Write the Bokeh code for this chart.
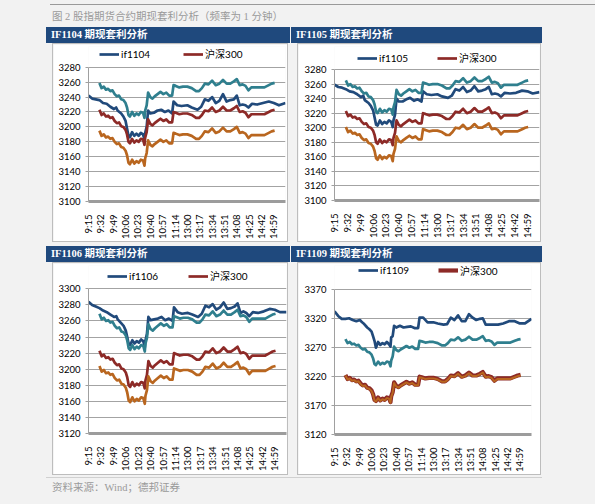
import math
from bokeh.plotting import figure
from bokeh.models import Range1d, FixedTicker, Legend, LegendItem, Div, Spacer
from bokeh.layouts import column, row
from bokeh.embed import file_html
from bokeh.resources import INLINE

# ---------------- data ----------------
TICK_LABELS = ["9:15", "9:32", "9:49", "10:06", "10:23", "10:40", "10:57", "11:14",
               "13:00", "13:17", "13:34", "13:51", "14:08", "14:25", "14:42", "14:59"]

# minute index (9:15 = 0, 13:00 = 136) of the points read for the spot-based series
SPOT_T = [15, 18, 21, 24, 27, 30, 33, 36, 39, 42, 45, 48, 51, 53, 55, 57, 60, 63, 66, 69,
          72, 75, 77, 78, 80, 82, 85, 88, 91, 95, 99, 103, 107, 111, 115, 117, 120, 125, 130, 136,
          142, 148, 152, 156, 160, 165, 170, 175, 180, 185, 190, 195, 200, 204, 208, 212, 216, 220, 224, 230,
          236, 242, 248, 252, 256]
# minute index of the points read for the futures series
FUT_T = [0, 5, 10, 15, 20, 25, 30, 35, 38, 40, 45, 48, 51, 53, 55, 57, 60, 63, 66, 69,
         72, 75, 77, 78, 80, 82, 85, 90, 95, 100, 105, 110, 115, 117, 122, 128, 136, 142, 150, 155,
         160, 165, 170, 175, 180, 185, 190, 195, 200, 204, 208, 212, 216, 220, 225, 232, 240, 248, 255, 262,
         271]

HS300 = [3223, 3216, 3218, 3214, 3215, 3212, 3213, 3208, 3205, 3206, 3201, 3200, 3196, 3190, 3180, 3178, 3184, 3179, 3182, 3180,
         3184, 3183, 3176, 3186, 3193, 3210, 3204, 3202, 3205, 3208, 3211, 3208, 3210, 3206, 3206, 3220, 3219, 3217, 3218, 3218,
         3216, 3212, 3212, 3216, 3222, 3221, 3226, 3220, 3222, 3227, 3222, 3222, 3225, 3228, 3220, 3221, 3219, 3213, 3217, 3217,
         3217, 3217, 3220, 3222, 3223]

IF1104 = [3242, 3238, 3237, 3236, 3232, 3231, 3227, 3224, 3226, 3222, 3218, 3214, 3208, 3198, 3188, 3186, 3193, 3188, 3191, 3188,
          3192, 3190, 3183, 3192, 3200, 3222, 3218, 3219, 3222, 3223, 3220, 3222, 3218, 3234, 3229, 3228, 3229, 3226, 3223, 3227,
          3237, 3235, 3240, 3232, 3235, 3244, 3234, 3236, 3237, 3242, 3229, 3230, 3229, 3226, 3231, 3230, 3232, 3234, 3232, 3229,
          3232]
UP1104 = [3259, 3252, 3254, 3250, 3251, 3248, 3249, 3244, 3241, 3242, 3237, 3236, 3232, 3226, 3216, 3214, 3220, 3215, 3218, 3216,
          3220, 3219, 3212, 3222, 3229, 3246, 3240, 3238, 3241, 3244, 3247, 3244, 3246, 3242, 3242, 3256, 3255, 3253, 3254, 3254,
          3252, 3248, 3248, 3252, 3258, 3257, 3262, 3256, 3258, 3263, 3258, 3258, 3261, 3264, 3256, 3257, 3255, 3249, 3253, 3253,
          3253, 3253, 3256, 3258, 3259]
LO1104 = [3195, 3188, 3190, 3186, 3187, 3184, 3185, 3180, 3177, 3178, 3173, 3172, 3168, 3162, 3152, 3150, 3156, 3151, 3154, 3152,
          3156, 3155, 3148, 3158, 3165, 3182, 3176, 3174, 3177, 3180, 3183, 3180, 3182, 3178, 3178, 3192, 3191, 3189, 3190, 3190,
          3188, 3184, 3184, 3188, 3194, 3193, 3198, 3192, 3194, 3199, 3194, 3194, 3197, 3200, 3192, 3193, 3191, 3185, 3189, 3189,
          3189, 3189, 3192, 3194, 3195]

IF1105 = [3259, 3256, 3255, 3253, 3250, 3249, 3246, 3242, 3244, 3238, 3234, 3230, 3224, 3214, 3204, 3203, 3210, 3205, 3208, 3206,
          3210, 3208, 3201, 3210, 3218, 3240, 3236, 3236, 3239, 3241, 3237, 3239, 3236, 3250, 3246, 3245, 3246, 3243, 3241, 3244,
          3253, 3251, 3256, 3249, 3251, 3257, 3250, 3251, 3253, 3256, 3246, 3247, 3246, 3243, 3248, 3247, 3248, 3251, 3250, 3247,
          3249]
UP1105 = [3265, 3258, 3260, 3256, 3257, 3254, 3255, 3250, 3247, 3248, 3243, 3242, 3238, 3232, 3222, 3220, 3226, 3221, 3224, 3222,
          3226, 3225, 3218, 3228, 3235, 3252, 3246, 3244, 3247, 3250, 3253, 3250, 3252, 3248, 3248, 3262, 3261, 3259, 3260, 3260,
          3258, 3254, 3254, 3258, 3264, 3263, 3268, 3262, 3264, 3269, 3264, 3264, 3267, 3270, 3262, 3263, 3261, 3255, 3259, 3259,
          3259, 3259, 3262, 3264, 3265]
LO1105 = [3201, 3194, 3196, 3192, 3193, 3190, 3191, 3186, 3183, 3184, 3179, 3178, 3174, 3168, 3158, 3156, 3162, 3157, 3160, 3158,
          3162, 3161, 3154, 3164, 3171, 3188, 3182, 3180, 3183, 3186, 3189, 3186, 3188, 3184, 3184, 3198, 3197, 3195, 3196, 3196,
          3194, 3190, 3190, 3194, 3200, 3199, 3204, 3198, 3200, 3205, 3200, 3200, 3203, 3206, 3198, 3199, 3197, 3191, 3195, 3195,
          3195, 3195, 3198, 3200, 3201]

IF1106 = [3284, 3280, 3278, 3276, 3273, 3271, 3268, 3265, 3266, 3262, 3257, 3254, 3248, 3240, 3231, 3230, 3236, 3232, 3235, 3233,
          3237, 3235, 3227, 3236, 3244, 3265, 3261, 3262, 3263, 3265, 3261, 3263, 3260, 3277, 3271, 3269, 3270, 3268, 3265, 3269,
          3279, 3277, 3281, 3274, 3277, 3283, 3275, 3276, 3278, 3282, 3270, 3272, 3270, 3266, 3271, 3270, 3272, 3275, 3274, 3271,
          3271]
UP1106 = [3269, 3262, 3264, 3260, 3261, 3258, 3259, 3254, 3251, 3252, 3247, 3246, 3242, 3236, 3226, 3224, 3230, 3225, 3228, 3226,
          3230, 3229, 3222, 3232, 3239, 3256, 3250, 3248, 3251, 3254, 3257, 3254, 3256, 3252, 3252, 3266, 3265, 3263, 3264, 3264,
          3262, 3258, 3258, 3262, 3268, 3267, 3272, 3266, 3268, 3273, 3268, 3268, 3271, 3274, 3266, 3267, 3265, 3259, 3263, 3263,
          3263, 3263, 3266, 3268, 3269]
LO1106 = [3204, 3197, 3199, 3195, 3196, 3193, 3194, 3189, 3186, 3187, 3182, 3181, 3177, 3171, 3161, 3159, 3165, 3160, 3163, 3161,
          3165, 3164, 3157, 3167, 3174, 3191, 3185, 3183, 3186, 3189, 3192, 3189, 3191, 3187, 3187, 3201, 3200, 3198, 3199, 3199,
          3197, 3193, 3193, 3197, 3203, 3202, 3207, 3201, 3203, 3208, 3203, 3203, 3206, 3209, 3201, 3202, 3200, 3194, 3198, 3198,
          3198, 3198, 3201, 3203, 3204]

IF1109 = [3333, 3325, 3320, 3320, 3321, 3318, 3316, 3318, 3314, 3312, 3305, 3302, 3298, 3290, 3282, 3270, 3280, 3275, 3278, 3276,
          3280, 3276, 3272, 3288, 3290, 3308, 3305, 3308, 3305, 3306, 3307, 3304, 3304, 3322, 3322, 3314, 3314, 3312, 3310, 3311,
          3322, 3318, 3326, 3316, 3316, 3328, 3322, 3318, 3320, 3321, 3310, 3310, 3310, 3310, 3310, 3312, 3316, 3316, 3312, 3312,
          3320]
UP1109 = [3285, 3278, 3280, 3276, 3277, 3274, 3275, 3270, 3267, 3268, 3263, 3262, 3258, 3252, 3242, 3240, 3246, 3241, 3244, 3242,
          3246, 3245, 3238, 3248, 3255, 3272, 3266, 3264, 3267, 3270, 3273, 3270, 3272, 3268, 3268, 3282, 3281, 3279, 3280, 3280,
          3278, 3274, 3274, 3278, 3284, 3283, 3288, 3282, 3284, 3289, 3284, 3284, 3287, 3290, 3282, 3283, 3281, 3275, 3279, 3279,
          3279, 3279, 3282, 3284, 3285]
LO1109 = [3222, 3215, 3217, 3213, 3214, 3211, 3212, 3207, 3204, 3205, 3200, 3199, 3195, 3189, 3179, 3177, 3183, 3178, 3181, 3179,
          3183, 3182, 3175, 3185, 3192, 3209, 3203, 3201, 3204, 3207, 3210, 3207, 3209, 3205, 3205, 3219, 3218, 3216, 3217, 3217,
          3215, 3211, 3211, 3215, 3221, 3220, 3225, 3219, 3221, 3226, 3221, 3221, 3224, 3227, 3219, 3220, 3218, 3212, 3216, 3216,
          3216, 3216, 3219, 3221, 3222]

CONTRACTS = ["IF1104", "IF1105", "IF1106", "IF1109"]
FUTURES = [IF1104, IF1105, IF1106, IF1109]
UPPER = [UP1104, UP1105, UP1106, UP1109]
LOWER = [LO1104, LO1105, LO1106, LO1109]
Y_MIN = [3100, 3100, 3120, 3120]
Y_MAX = [3280, 3280, 3300, 3370]
Y_STEP = [20, 20, 20, 50]
SPOT_NAME = "沪深300"
CAPTION = "图 2 股指期货合约期现套利分析（频率为 1 分钟）"
SOURCE = "资料来源：Wind；德邦证券"
TITLE_SUFFIX = " 期现套利分析"


def minute_index(hhmm):
    h, m = map(int, hhmm.split(":"))
    t = h * 60 + m
    if t <= 11 * 60 + 30:
        return t - (9 * 60 + 15)
    return 136 + t - 13 * 60


TICK_POS = [minute_index(s) for s in TICK_LABELS]

# ---------------- style ----------------
C_BLUE = "#214a7b"
C_TEAL = "#2f7f8e"
C_RED = "#8d2a27"
C_ORANGE = "#b9661f"
C_BAR = "#1f497d"
PAGE_BG = "#f2f2f2"
TICK_FONT = "Lato"
CJK = "'Liberation Serif', 'Noto Sans CJK SC'"

# per panel geometry (canvas pixels): size, left/right border,
# y pixel of the top tick, y pixel of the bottom tick, legend x offset / centre y / spacing
GEOM = [
    dict(w=234, h=197, l=35, r=2, ytop=22.7, ybot=156.7, lx=11, lcy=11, sp=33),
    dict(w=242, h=197, l=36, r=1, ytop=25.0, ybot=156.0, lx=23, lcy=15, sp=29),
    dict(w=234, h=211, l=35, r=1, ytop=25.3, ybot=169.7, lx=19, lcy=13.7, sp=30),
    dict(w=242, h=211, l=36, r=9, ytop=27.0, ybot=175.0, lx=24, lcy=12.7, sp=29),
]
FRAME_TOP = 2


def make_panel(i):
    g = GEOM[i]
    pxu = (g["ybot"] - g["ytop"]) / (Y_MAX[i] - Y_MIN[i])
    y_end = Y_MAX[i] + (g["ytop"] - FRAME_TOP) / pxu
    p = figure(width=g["w"], height=g["h"], output_backend="svg", toolbar_location=None,
               x_range=Range1d(0, 271), y_range=Range1d(Y_MIN[i], y_end),
               min_border_left=g["l"], min_border_right=g["r"],
               min_border_top=FRAME_TOP, min_border_bottom=int(round(g["h"] - g["ybot"])))
    p.border_fill_color = "white"
    p.background_fill_color = "white"
    p.outline_line_color = None
    p.styles = {"outline": "1px solid #bdbdbd"}

    p.xgrid.visible = False
    p.ygrid.grid_line_color = "#a3a3a3"
    p.ygrid.grid_line_width = 1

    ya = p.yaxis[0]
    ya.ticker = FixedTicker(ticks=list(range(Y_MIN[i], Y_MAX[i] + 1, Y_STEP[i])))
    ya.bounds = (Y_MIN[i], Y_MAX[i])
    ya.axis_line_color = "#a0a0a0"
    ya.major_tick_line_color = "#a0a0a0"
    ya.major_tick_out = 3
    ya.major_tick_in = 0
    ya.minor_tick_line_color = None
    ya.major_label_text_font = TICK_FONT
    ya.major_label_text_font_size = "9.5px"
    ya.major_label_text_color = "#000000"
    ya.major_label_standoff = 5

    xa = p.xaxis[0]
    xa.ticker = FixedTicker(ticks=TICK_POS)
    xa.major_label_overrides = {pos: lab for pos, lab in zip(TICK_POS, TICK_LABELS)}
    xa.major_label_orientation = math.pi / 2
    xa.axis_line_color = "#9c9c9c"
    xa.axis_line_width = 3
    xa.major_tick_line_color = None
    xa.minor_tick_line_color = None
    xa.major_label_text_font = TICK_FONT
    xa.major_label_text_font_size = "9.5px"
    xa.major_label_text_color = "#000000"
    xa.major_label_standoff = 7

    lw = 2.7
    r_fut = p.line(FUT_T, FUTURES[i], line_color=C_BLUE, line_width=lw, line_join="round")
    r_spot = p.line(SPOT_T, HS300, line_color=C_RED, line_width=(4.2 if i == 3 else lw), line_join="round")
    p.line(SPOT_T, UPPER[i], line_color=C_TEAL, line_width=lw, line_join="round")
    p.line(SPOT_T, LOWER[i], line_color=C_ORANGE, line_width=(2.0 if i == 3 else lw), line_join="round")

    leg_h = 12
    ly = g["ybot"] - g["lcy"] - leg_h / 2
    legend = Legend(items=[LegendItem(label=CONTRACTS[i].lower(), renderers=[r_fut]),
                           LegendItem(label=SPOT_NAME, renderers=[r_spot])],
                    orientation="horizontal", location=(g["lx"], ly),
                    background_fill_alpha=0, border_line_alpha=0, padding=0, margin=0,
                    spacing=g["sp"], glyph_width=20, glyph_height=10, label_standoff=2,
                    label_height=leg_h, label_text_font="Lato, 'Noto Sans CJK SC'",
                    label_text_font_size="10px", label_text_color="#000000")
    p.add_layout(legend)
    return p


def title_div(i, w):
    html = ('<div style="width:%dpx;height:16px;background:%s;color:#ffffff;'
            'font-family:%s;font-weight:bold;font-size:10.5px;line-height:16px;'
            'padding-left:5px;box-sizing:border-box;white-space:nowrap;">%s</div>'
            % (w, C_BAR, CJK, CONTRACTS[i] + TITLE_SUFFIX))
    return Div(text=html, width=w, height=16, margin=0)


def panel(i, outer_w):
    g = GEOM[i]
    return column(title_div(i, outer_w), Spacer(width=outer_w, height=2, margin=0),
                  row(Spacer(width=7, height=g["h"], margin=0), make_panel(i)),
                  width=outer_w)


header = Div(text=('<div style="position:relative;width:595px;height:26px;">'
                   '<div style="position:absolute;left:50px;top:4px;width:545px;height:0;border-top:1px solid #9a9a9a;"></div>'
                   '<div style="position:absolute;left:52px;top:10px;font-family:%s;font-size:10.5px;'
                   'color:#9a9a9a;white-space:nowrap;line-height:14px;">%s</div></div>') % (CJK, CAPTION),
             width=595, height=26, margin=0)

footer = Div(text=('<div style="position:relative;width:595px;height:30px;">'
                   '<div style="position:absolute;left:46px;top:3px;width:496px;height:0;border-top:1px solid #d0d0d0;"></div>'
                   '<div style="position:absolute;left:52px;top:7px;font-family:%s;font-size:10.5px;'
                   'color:#9a9a9a;white-space:nowrap;line-height:14px;">%s</div></div>') % (CJK, SOURCE),
             width=595, height=30, margin=0)

row1 = row(Spacer(width=46, height=215, margin=0), panel(0, 244), Spacer(width=1, height=215, margin=0), panel(1, 251))
row2 = row(Spacer(width=46, height=229, margin=0), panel(2, 244), Spacer(width=1, height=229, margin=0), panel(3, 251))

root = column(header, row1, Spacer(width=595, height=4, margin=0), row2, footer,
              width=595, height=504, styles={"background-color": PAGE_BG})

open("out.html", "w").write(file_html(root, INLINE))
